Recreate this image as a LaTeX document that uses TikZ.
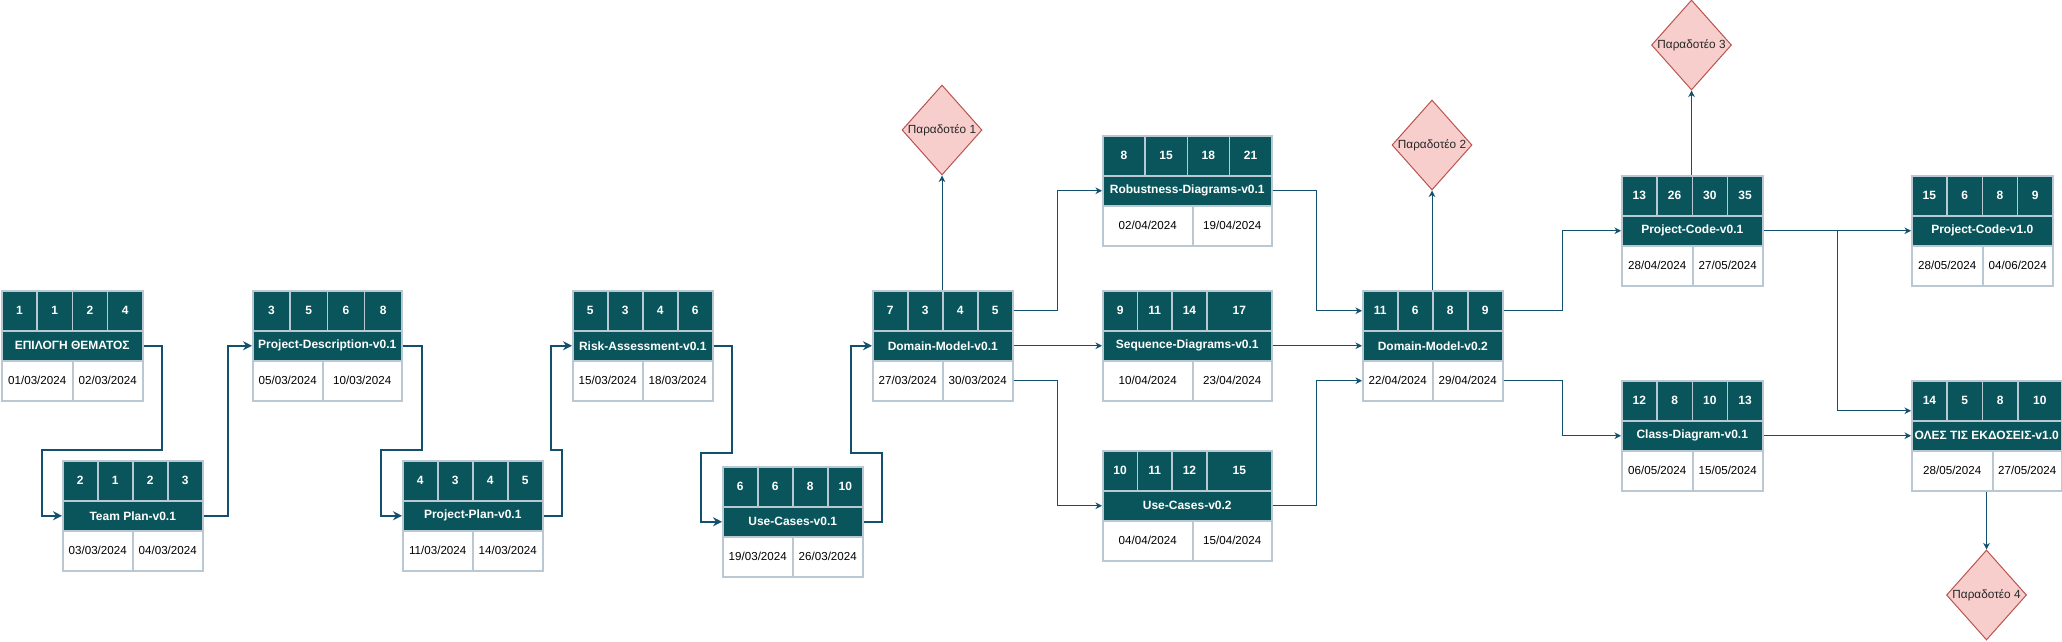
\documentclass[tikz,border=0pt]{standalone}
\usepackage{fontspec}
\setmainfont{Liberation Sans}
\usetikzlibrary{shapes.geometric,arrows.meta,calc}
\definecolor{tealfill}{HTML}{09555B}
\definecolor{cellline}{HTML}{BAC8D3}
\definecolor{connc}{HTML}{12506E}
\definecolor{dfill}{HTML}{F8CECC}
\definecolor{dline}{HTML}{B85450}
\tikzset{
  numcell/.style={draw=cellline, line width=1.5pt, fill=tealfill, minimum height=40pt, inner sep=0pt,
    text=white, font=\fontsize{12}{14}\selectfont\bfseries, anchor=north west},
  namebox/.style={draw=cellline, line width=1.5pt, fill=tealfill, minimum height=30pt, inner sep=0pt,
    text=white, font=\fontsize{12}{14}\selectfont\bfseries, anchor=north west},
  datecell/.style={draw=cellline, line width=1.5pt, fill=white, minimum height=40pt, inner sep=0pt,
    text=black, font=\fontsize{11.6}{14}\selectfont, anchor=north west},
  deliv/.style={diamond, aspect=0.889, draw=dline, fill=dfill, line width=1pt, minimum width=80pt,
    minimum height=90pt, inner sep=0pt, font=\fontsize{11.8}{14}\selectfont, text=black!85},
  chain/.style={draw=connc, line width=2pt, -{Stealth[length=9pt,width=9pt,inset=3pt]}},
  conn/.style={draw=connc, line width=1pt, -{Stealth[length=6.5pt,width=6.5pt,inset=2pt]}},
}
\newcommand\blk[7]{%
  \def\bid{#1}%
  \pgfmathsetmacro\bxl{#2}%
  \pgfmathsetmacro\bxr{#3}%
  \pgfmathsetmacro\byt{#4}%
  \pgfmathsetmacro\bwl{#5}%
  \pgfmathsetmacro\bw{(#3-#2-#5)/3}%
  \pgfmathsetmacro\bxd{#6}%
  \def\blabel{#7}%
}
\newcommand\blkc[6]{%
  \node[numcell, minimum width={\bw}] (\bid-1) at (\bxl,\byt) {#1};
  \node[numcell, minimum width={\bw}] (\bid-2) at (\bxl+\bw,\byt) {#2};
  \node[numcell, minimum width={\bw}] (\bid-3) at (\bxl+2*\bw,\byt) {#3};
  \node[numcell, minimum width={\bwl}] (\bid-4) at (\bxl+3*\bw,\byt) {#4};
  \node[namebox, minimum width={\bxr-\bxl}] (\bid) at (\bxl,\byt+40) {\blabel};
  \node[datecell, minimum width={\bxd-\bxl}] (\bid-d1) at (\bxl,\byt+70) {#5};
  \node[datecell, minimum width={\bxr-\bxd}] (\bid-d2) at (\bxd,\byt+70) {#6};
}
\begin{document}
\begin{tikzpicture}[x=1pt,y=-1pt]
\useasboundingbox (0,0) rectangle (2062,641);

\blk{b1}{1}{142}{290}{35.25}{72}{ΕΠΙΛΟΓΗ ΘΕΜΑΤΟΣ}\blkc{1}{1}{2}{4}{01/03/2024}{02/03/2024}
\blk{tp}{62}{202}{460}{35}{132}{Team Plan-v0.1}\blkc{2}{1}{2}{3}{03/03/2024}{04/03/2024}
\blk{pd}{252}{401}{290}{37.25}{322}{Project-Description-v0.1}\blkc{3}{5}{6}{8}{05/03/2024}{10/03/2024}
\blk{pp}{402}{542}{460}{35}{472}{Project-Plan-v0.1}\blkc{4}{3}{4}{5}{11/03/2024}{14/03/2024}
\blk{ra}{572}{712}{290}{35}{642}{Risk-Assessment-v0.1}\blkc{5}{3}{4}{6}{15/03/2024}{18/03/2024}
\blk{uc1}{722}{862}{466}{35}{792}{Use-Cases-v0.1}\blkc{6}{6}{8}{10}{19/03/2024}{26/03/2024}
\blk{dm1}{872}{1012}{290}{35}{942}{Domain-Model-v0.1}\blkc{7}{3}{4}{5}{27/03/2024}{30/03/2024}
\blk{rd}{1102}{1271}{135}{42.25}{1192}{Robustness-Diagrams-v0.1}\blkc{8}{15}{18}{21}{02/04/2024}{19/04/2024}
\blk{sd}{1102}{1271}{290}{65}{1192}{Sequence-Diagrams-v0.1}\blkc{9}{11}{14}{17}{10/04/2024}{23/04/2024}
\blk{uc2}{1102}{1271}{450}{65}{1192}{Use-Cases-v0.2}\blkc{10}{11}{12}{15}{04/04/2024}{15/04/2024}
\blk{dm2}{1362}{1502}{290}{35}{1432}{Domain-Model-v0.2}\blkc{11}{6}{8}{9}{22/04/2024}{29/04/2024}
\blk{pc1}{1621}{1762}{175}{35.25}{1692}{Project-Code-v0.1}\blkc{13}{26}{30}{35}{28/04/2024}{27/05/2024}
\blk{pc2}{1911}{2052}{175}{35.25}{1982}{Project-Code-v1.0}\blkc{15}{6}{8}{9}{28/05/2024}{04/06/2024}
\blk{cd}{1621}{1762}{380}{35.25}{1692}{Class-Diagram-v0.1}\blkc{12}{8}{10}{13}{06/05/2024}{15/05/2024}
\blk{all}{1911}{2061}{380}{44}{1992}{ΟΛΕΣ ΤΙΣ ΕΚΔΟΣΕΙΣ-v1.0}\blkc{14}{5}{8}{10}{28/05/2024}{27/05/2024}

\node[deliv] (p1) at (942,130) {\makebox[0pt]{Παραδοτέο 1}};
\node[deliv] (p2) at (1432,145) {\makebox[0pt]{Παραδοτέο 2}};
\node[deliv] (p3) at (1691.5,45) {\makebox[0pt]{Παραδοτέο 3}};
\node[deliv] (p4) at (1986.5,595) {\makebox[0pt]{Παραδοτέο 4}};

% first chain
\draw[chain] (b1.east) -| (162,450) -| (42,480) |- (tp.west);
\draw[chain] (tp.east) -- ++(24,0) |- (pd.west);
\draw[chain] (pd.east) -| (422,450) -| (381,480) |- (pp.west);
\draw[chain] (pp.east) -| (562,450) -| (551,400) |- (ra.west);
\draw[chain] (ra.east) -| (732,453) -| (701,480) |- (uc1.west);
\draw[chain] (uc1.east) -| (882,453) -| (851,400) |- (dm1.west);

% rest
\draw[conn] (p1.south |- dm1-2.north) -- (p1.south);
\draw[conn] (dm1-4.east) -| (1057,250) |- (rd.west);
\draw[conn] (dm1.east) -- (sd.west);
\draw[conn] (dm1-d2.east) -| (1057,450) |- (uc2.west);
\draw[conn] (rd.east) -| (1316,250) |- (dm2-1.west);
\draw[conn] (sd.east) -- (dm2.west);
\draw[conn] (uc2.east) -| (1316,450) |- (dm2-d1.west);
\draw[conn] (p2.south |- dm2-2.north) -- (p2.south);
\draw[conn] (dm2-4.east) -| (1562,270) |- (pc1.west);
\draw[conn] (dm2-d2.east) -| (1562,400) |- (cd.west);
\draw[conn] (p3.south |- pc1-2.north) -- (p3.south);
\draw[conn] (pc1.east) -- (pc2.west);
\draw[conn] (pc1.east) -| (1837,350) |- ([yshift=-10pt]all-1.west);
\draw[conn] (cd.east) -- (all.west);
\draw[conn] (p4.north |- all-d1.south) -- (p4.north);
\end{tikzpicture}
\end{document}
